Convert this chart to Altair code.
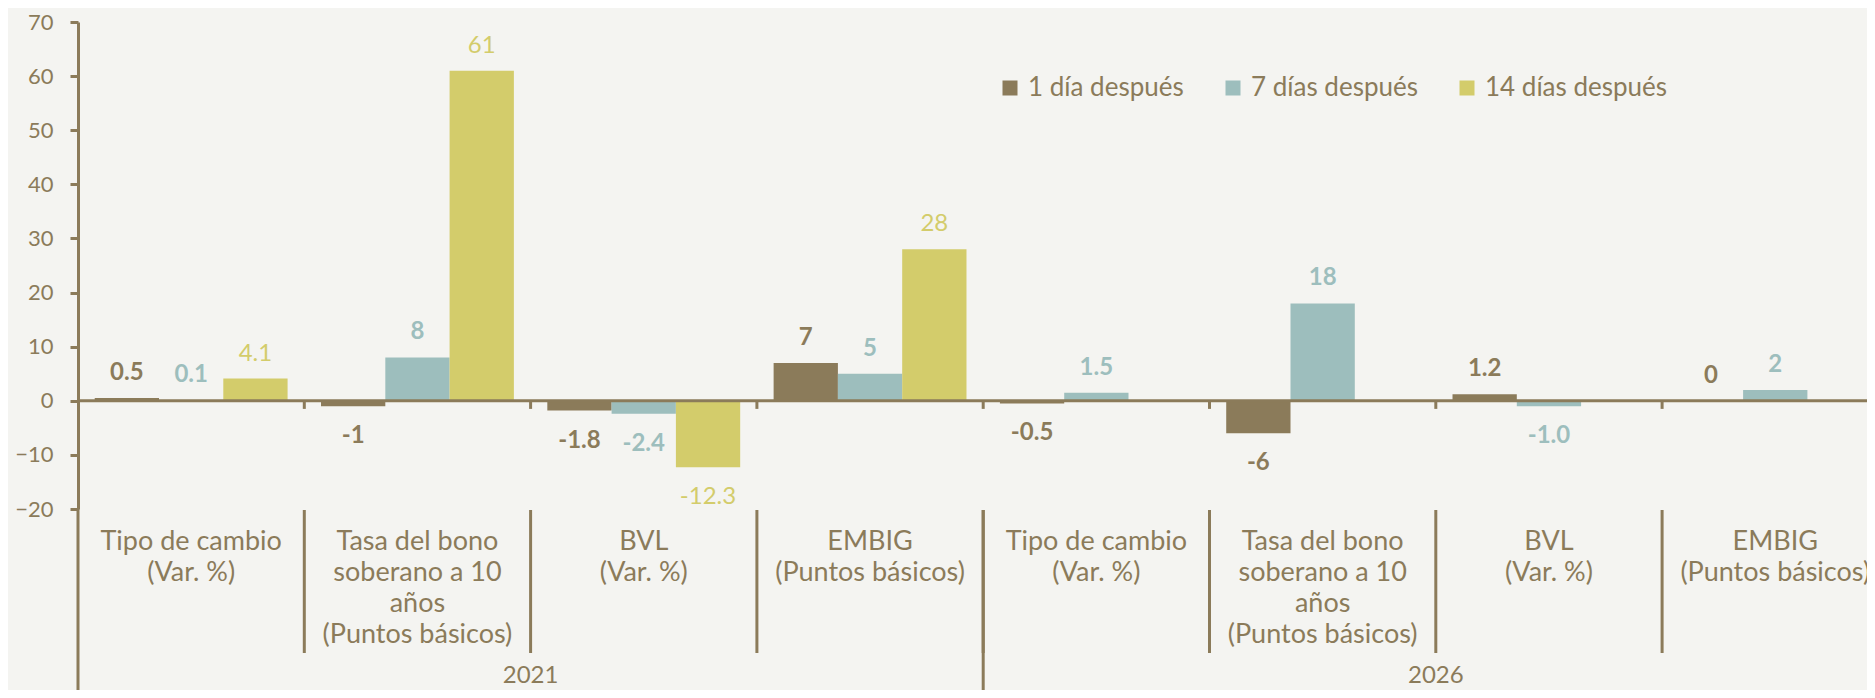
import altair as alt
import pandas as pd

# ---------------- data ----------------
years = ["2021", "2026"]
categories = [
    "Tipo de cambio\n(Var. %)",
    "Tasa del bono\nsoberano a 10\naños\n(Puntos básicos)",
    "BVL\n(Var. %)",
    "EMBIG\n(Puntos básicos)",
]
series = ["1 día después", "7 días después", "14 días después"]

v_1d = [0.5, -1, -1.8, 7, -0.5, -6, 1.2, 0]
v_7d = [0.1, 8, -2.4, 5, 1.5, 18, -1.0, 2]
v_14d = [4.1, 61, -12.3, 28, None, None, None, None]

lab_1d = ["0.5", "-1", "-1.8", "7", "-0.5", "-6", "1.2", "0"]
lab_7d = ["0.1", "8", "-2.4", "5", "1.5", "18", "-1.0", "2"]
lab_14d = ["4.1", "61", "-12.3", "28", "", "", "", ""]

y_ticks = [-20, -10, 0, 10, 20, 30, 40, 50, 60, 70]

# ---------------- style ----------------
BROWN = "#8B7B5A"
TEAL = "#9DBEBD"
YELLOW = "#D3CC6B"
BG = "#F4F4F1"
FONT = "Lato"
colors = [BROWN, TEAL, YELLOW]

PAD_L, PAD_T = 70, 14
TOTAL_W, TOTAL_H = 1859, 682
PLOT_W = TOTAL_W - PAD_L
PLOT_H = 487
PAD_B = TOTAL_H - PAD_T - PLOT_H
XR = 8 * 226.3  # x range extends past the visible area (clipped like the original)

# ---------------- tables ----------------
keys = [f"{y} {i}" for y in years for i in range(len(categories))]
cat_text = [c for y in years for c in categories]

vals = [v_1d, v_7d, v_14d]
labs = [lab_1d, lab_7d, lab_14d]
rows = []
for k_i, k in enumerate(keys):
    for s_i, s in enumerate(series):
        v = vals[s_i][k_i]
        if v is None:
            continue
        rows.append({"key": k, "series": s, "value": v, "label": labs[s_i][k_i]})
df = pd.DataFrame(rows)

df_cats = pd.DataFrame({"key": keys, "text": cat_text})
df_bounds = pd.DataFrame({"key": keys[1:]})
df_mid = pd.DataFrame({"key": [keys[len(categories)]]})
df_years = pd.DataFrame({"key": [keys[2], keys[len(categories) + 2]], "text": years})
df_one = pd.DataFrame({"k": [0]})

x_scale = alt.Scale(domain=keys, range=[0, XR], paddingInner=0, paddingOuter=0)
y_scale = alt.Scale(domain=[-20, 70], nice=False, zero=False)
color_scale = alt.Scale(domain=series, range=colors)

X = alt.X("key:N", scale=x_scale, sort=keys, axis=None)
XO = alt.XOffset("series:N", sort=series,
                 scale=alt.Scale(domain=series, paddingInner=0, paddingOuter=0.26))

bars = alt.Chart(df).mark_bar().encode(
    x=X,
    xOffset=XO,
    y=alt.Y("value:Q", scale=y_scale,
            axis=alt.Axis(values=y_ticks, title=None, grid=False,
                          domainColor=BROWN, domainWidth=3,
                          tickColor=BROWN, tickWidth=3, tickSize=8,
                          labelFontSize=22, labelColor=BROWN, labelFont=FONT,
                          labelPadding=17, labelFlush=False)),
    color=alt.Color("series:N", scale=color_scale, sort=series,
                    legend=alt.Legend(orient="none", legendX=919, legendY=53,
                                      direction="horizontal", title=None,
                                      symbolType="square", symbolSize=225,
                                      symbolStrokeWidth=0,
                                      labelFontSize=26, labelFont=FONT,
                                      labelColor=BROWN, labelOffset=5,
                                      labelLimit=400, columnPadding=36)),
)


def labels(filter_expr, dy, weight):
    return alt.Chart(df).transform_filter(filter_expr).mark_text(
        font=FONT, fontSize=24, fontWeight=weight, baseline="middle",
        align="center", dy=dy
    ).encode(
        x=X, xOffset=XO,
        y=alt.Y("value:Q", scale=y_scale, title=None),
        text="label:N",
        color=alt.Color("series:N", scale=color_scale, sort=series, legend=None),
    )


lab_pos_b = labels("datum.value >= 0 && datum.series != '14 días después'", -25, "bold")
lab_neg_b = labels("datum.value < 0 && datum.series != '14 días después'", 30, "bold")
lab_pos_n = labels("datum.value >= 0 && datum.series == '14 días después'", -25, "normal")
lab_neg_n = labels("datum.value < 0 && datum.series == '14 días después'", 30, "normal")

zero_line = alt.Chart(df_one).mark_rule(color=BROWN, strokeWidth=3).encode(
    y=alt.datum(0), x=alt.value(0), x2=alt.value(XR)
)

XB = alt.X("key:N", scale=x_scale, sort=keys, axis=None, bandPosition=0)

zero_ticks = alt.Chart(df_bounds).mark_rule(color=BROWN, strokeWidth=3).encode(
    x=XB, y=alt.datum(0), y2=alt.datum(-1.5)
)

separators = alt.Chart(df_bounds).mark_rule(color=BROWN, strokeWidth=3).encode(
    x=XB, y=alt.value(PLOT_H + 1), y2=alt.value(PLOT_H + 144)
)

mid_sep = alt.Chart(df_mid).mark_rule(color=BROWN, strokeWidth=3).encode(
    x=XB, y=alt.value(PLOT_H + 1), y2=alt.value(TOTAL_H - PAD_T)
)

axis_ext = alt.Chart(df_one).mark_rule(color=BROWN, strokeWidth=3).encode(
    x=alt.value(0), y=alt.value(PLOT_H), y2=alt.value(TOTAL_H - PAD_T)
)

cat_labels = alt.Chart(df_cats).mark_text(
    font=FONT, fontSize=27, lineHeight=31, lineBreak="\n", baseline="top",
    align="center", color=BROWN
).encode(x=X, y=alt.value(PLOT_H + 20), text="text:N")

year_labels = alt.Chart(df_years).mark_text(
    font=FONT, fontSize=24, baseline="bottom", align="center", color=BROWN
).encode(x=XB, y=alt.value(TOTAL_H - PAD_T - 2), text="text:N")

chart = alt.layer(
    bars, zero_line, zero_ticks, separators, mid_sep, axis_ext,
    lab_pos_b, lab_neg_b, lab_pos_n, lab_neg_n, cat_labels, year_labels
).properties(
    width=PLOT_W, height=PLOT_H,
    autosize=alt.AutoSizeParams(type="none"),
    padding={"left": PAD_L, "top": PAD_T, "right": 0, "bottom": PAD_B},
    background=BG,
).configure_view(strokeWidth=0)

chart.save("out.html", embed_options={"renderer": "svg", "actions": False})
